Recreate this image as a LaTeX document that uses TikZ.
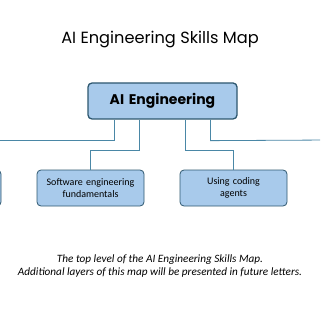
\documentclass[tikz,border=0pt]{standalone}
\usepackage{fontspec}
\usepackage{xcolor}
\usepackage{tikz}
\usetikzlibrary{positioning}
\newfontfamily\titlefont{Poppins}
\newfontfamily\boxfont{Carlito}
\definecolor{skillfill}{HTML}{A8CAEB}
\definecolor{skilledge}{HTML}{2E5870}
\definecolor{linkblue}{HTML}{4A87A6}
\tikzset{
  skillbox/.style={rectangle,rounded corners=4pt,draw=skilledge,line width=0.8pt,fill=skillfill,minimum width=107pt,minimum height=36pt,text width=100pt,align=center,font=\boxfont\fontsize{10}{12}\selectfont,inner sep=0pt},
  topbox/.style={skillbox,line width=1.3pt,minimum width=149pt,text width=140pt,font=\titlefont\bfseries\fontsize{14}{16}\selectfont},
  link/.style={linkblue,line width=0.8pt}
}

\begin{document}
\begin{tikzpicture}[x=1pt,y=-1pt]
\useasboundingbox[fill=white] (0,0) rectangle (320,320);
\clip (0,0) rectangle (320,320);
\node[font=\titlefont\fontsize{16.2}{18}\selectfont] (title) at (160,40) {AI Engineering Skills Map};
\node[topbox] (ai) at (162.5,101) {AI Engineering};
\node[skillbox] (swe) at (90.5,188) {Software engineering\\fundamentals};
\node[skillbox] (agents) at (233.5,188) {Using coding\\agents};
\node[skillbox] (lft) at (-52.5,188) {};
\coordinate (rgt) at (330,140);
\draw[link] ([xshift=-48pt]ai.south) -- ++(0,21) -| (lft.north);
\draw[link] ([xshift=-23pt]ai.south) -- ++(0,31) -| (swe.north);
\draw[link] ([xshift=23pt]ai.south) -- ++(0,31) -| (agents.north);
\draw[link] ([xshift=48pt]ai.south) -- ++(0,21) -- (rgt);
\node[font=\boxfont\itshape\fontsize{11.2}{13.6}\selectfont,align=center] (note) at (160,266) {The top level of the AI Engineering Skills Map.\\Additional layers of this map will be presented in future letters.};
\end{tikzpicture}
\end{document}
